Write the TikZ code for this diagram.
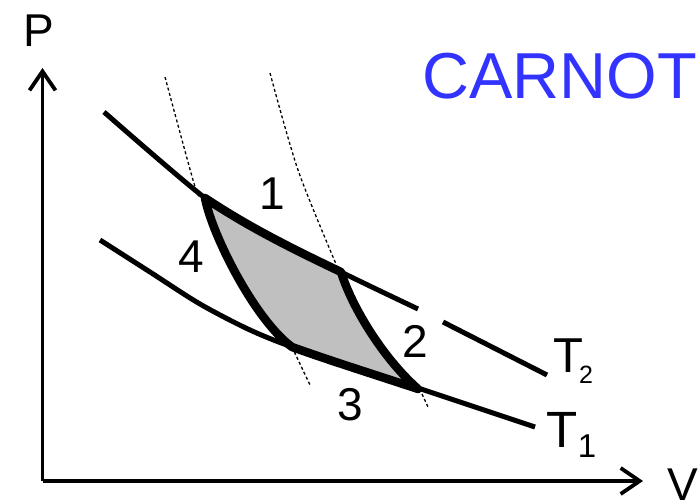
\documentclass[tikz,border=0pt]{standalone}
\usepackage{fontspec}
\setmainfont{Liberation Sans}
\usetikzlibrary{arrows.meta}
\definecolor{carnotblue}{RGB}{51,51,255}
\definecolor{cyclegray}{RGB}{192,192,192}
\tikzset{
  axisline/.style={line width=3.8pt, -{Straight Barb[length=19pt,width=26pt,line width=3.8pt]}},
  isotherm/.style={line width=5pt},
  cycleedge/.style={line width=8.5pt, line join=round, fill=cyclegray},
  adiabat/.style={line width=1.3pt, dash pattern=on 3pt off 2.5pt},
  lbl/.style={inner sep=0pt, anchor=base, font=\fontsize{46}{46}\selectfont},
}
\begin{document}
\begin{tikzpicture}[x=1pt,y=-1pt]
\useasboundingbox (0,0) rectangle (698,502);
% axes
\coordinate (O) at (42.5,481);
\coordinate (Ptip) at (42.5,68);
\coordinate (Vtip) at (643,481);
\draw[axisline] (O) -- (Ptip);
\draw[axisline] (O) -- (Vtip);
\node[lbl] (Plabel) at (39,47) {P};
\node[lbl, anchor=base west] (Vlabel) at (667,500) {V};
% corners of the cycle
\coordinate (A) at (205,198);
\coordinate (B) at (341,272);
\coordinate (C) at (418,389);
\coordinate (D) at (292,347);
% adiabats (dotted)
\draw[adiabat] plot[smooth] coordinates {(165,77) (193,180) (200,198)};
\draw[adiabat] plot[smooth] coordinates {(270,73) (298,170) (336,264)};
\draw[adiabat] (D) -- (310,385);
\draw[adiabat] (422,394) -- (428,407);
% isotherms
\draw[isotherm] plot[smooth, tension=0.5] coordinates {(104,112) (205,198) (263,232) (341,272) (418,309)};
\draw[isotherm] (443,322) -- (547,375);
\draw[isotherm] plot[smooth, tension=0.5] coordinates {(100,240) (150,272) (200,304) (250,330) (295,348) (353,366) (418,388) (535,427)};
% cycle
\draw[cycleedge] (A) .. controls (250,228) and (295,250) .. (B)
  .. controls (353,310) and (385,360) .. (C)
  .. controls (376,375) and (334,362) .. (D)
  .. controls (255,320) and (212,235) .. (A) -- cycle;
% labels
\node[lbl] (n1) at (272,210) {1};
\node[lbl] (n2) at (415,357) {2};
\node[lbl] (n3) at (350,420) {3};
\node[lbl] (n4) at (191,273) {4};
\node[inner sep=0pt, anchor=base, font=\fontsize{49}{49}\selectfont] (T2) at (568,372) {T};
\node[inner sep=0pt, anchor=base, font=\fontsize{25}{25}\selectfont] (T2s) at (586,383) {2};
\node[inner sep=0pt, anchor=base, font=\fontsize{51}{51}\selectfont] (T1) at (562.5,447) {T};
\node[inner sep=0pt, anchor=base, font=\fontsize{33}{33}\selectfont] (T1s) at (587,457) {1};
\node[inner sep=0pt, anchor=base, text=carnotblue, font=\fontsize{65}{65}\selectfont] (title) at (559.5,99) {CARNOT};
\end{tikzpicture}
\end{document}
